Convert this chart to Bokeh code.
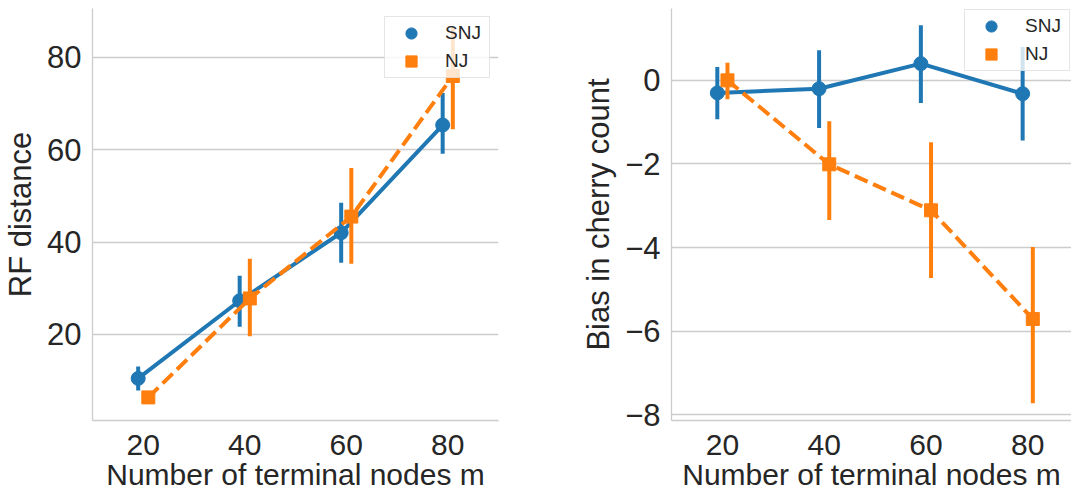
import numpy as np
from bokeh.plotting import figure
from bokeh.layouts import row
from bokeh.models import (ColumnDataSource, Range1d, FixedTicker, Legend, LegendItem,
                          CustomJSTickFormatter)
from bokeh.transform import dodge
from bokeh.embed import file_html
from bokeh.resources import INLINE

# ---------------- data ----------------
categories = ["20", "40", "60", "80"]
series = ["SNJ", "NJ"]

rf_snj = [10.5, 27.3, 42.0, 65.3]
rf_snj_lo = [7.9, 21.7, 35.5, 59.1]
rf_snj_hi = [13.1, 32.7, 48.5, 72.2]
rf_nj = [6.4, 27.8, 45.5, 75.9]
rf_nj_lo = [5.6, 19.6, 35.3, 64.4]
rf_nj_hi = [7.3, 36.4, 56.0, 86.5]

bias_snj = [-0.30, -0.20, 0.40, -0.32]
bias_snj_lo = [-0.93, -1.14, -0.54, -1.44]
bias_snj_hi = [0.32, 0.72, 1.32, 0.80]
bias_nj = [0.00, -2.01, -3.11, -5.71]
bias_nj_lo = [-0.45, -3.34, -4.73, -7.73]
bias_nj_hi = [0.42, -0.98, -1.48, -3.99]

left_ticks = [20, 40, 60, 80]
right_ticks = [-8, -6, -4, -2, 0]

BLUE = "#1f77b4"
ORANGE = "#ff7f0e"
TXT = "#262626"
GRID = "#cccccc"
FONT = "Liberation Sans"

idx = list(range(len(categories)))


def make_panel(width, min_left, min_right, yr, xr_end, yticks, ylabel,
               snj, snj_lo, snj_hi, nj, nj_lo, nj_hi, minus=False, legend_margin=8):
    p = figure(width=width, height=495, output_backend="svg", toolbar_location=None,
               x_range=Range1d(-0.5, xr_end), y_range=Range1d(*yr),
               min_border_left=min_left, min_border_right=min_right,
               min_border_top=8, min_border_bottom=75)
    p.outline_line_color = None
    p.background_fill_color = "white"
    p.border_fill_color = "white"

    src_s = ColumnDataSource(dict(x=idx, y=snj, lo=snj_lo, hi=snj_hi))
    src_n = ColumnDataSource(dict(x=idx, y=nj, lo=nj_lo, hi=nj_hi))
    xs = dodge("x", -0.05, range=p.x_range)
    xn = dodge("x", 0.05, range=p.x_range)

    # SNJ
    p.segment(x0=xs, y0="lo", x1=xs, y1="hi", source=src_s, line_color=BLUE, line_width=4)
    p.line(x=xs, y="y", source=src_s, line_color=BLUE, line_width=4)
    r_s = p.scatter(x=xs, y="y", source=src_s, marker="circle", size=14,
                    fill_color=BLUE, line_color=BLUE)
    # NJ
    p.segment(x0=xn, y0="lo", x1=xn, y1="hi", source=src_n, line_color=ORANGE, line_width=4)
    p.line(x=xn, y="y", source=src_n, line_color=ORANGE, line_width=4, line_dash="14 6")
    r_n = p.scatter(x=xn, y="y", source=src_n, marker="square", size=13,
                    fill_color=ORANGE, line_color=ORANGE)

    legend = Legend(items=[LegendItem(label=series[0], renderers=[r_s]),
                           LegendItem(label=series[1], renderers=[r_n])],
                    location="top_right", margin=legend_margin,
                    padding=2, spacing=0, glyph_width=48, glyph_height=28,
                    label_height=28, label_width=42, label_standoff=10,
                    label_text_font=FONT, label_text_font_size="19px",
                    label_text_color=TXT, border_line_color=GRID, border_line_width=1.2,
                    background_fill_color="white", background_fill_alpha=0.8)
    p.add_layout(legend)

    # axes
    p.xaxis.ticker = FixedTicker(ticks=idx)
    p.xaxis.major_label_overrides = {i: c for i, c in zip(idx, categories)}
    p.xaxis.axis_label = "Number of terminal nodes m"
    p.yaxis.ticker = FixedTicker(ticks=yticks)
    p.yaxis.axis_label = ylabel
    if minus:
        p.yaxis.formatter = CustomJSTickFormatter(
            code="return String(tick).replace('-', '\u2212');")
    for ax in (p.xaxis[0], p.yaxis[0]):
        ax.axis_line_color = GRID
        ax.axis_line_width = 1.3
        ax.major_tick_line_color = None
        ax.minor_tick_line_color = None
        ax.major_tick_out = 0
        ax.major_tick_in = 0
        ax.minor_tick_out = 0
        ax.minor_tick_in = 0
        ax.major_label_text_font = FONT
        ax.major_label_text_font_size = "31px"
        ax.major_label_text_color = TXT
        ax.axis_label_text_font = FONT
        ax.axis_label_text_font_size = "31px"
        ax.axis_label_text_font_style = "normal"
        ax.axis_label_text_color = TXT
    p.xaxis.major_label_text_font_size = "30px"
    p.xaxis.axis_label_text_font_size = "30px"
    p.xaxis.major_label_standoff = 14
    p.xaxis.axis_label_standoff = 0
    p.yaxis.major_label_standoff = 11
    p.yaxis.axis_label_standoff = 6

    p.xgrid.visible = False
    p.ygrid.grid_line_color = GRID
    p.ygrid.grid_line_width = 1.3
    return p


p1 = make_panel(506, 91, 8, (1.4, 90.5), 3.5, left_ticks, "RF distance",
                rf_snj, rf_snj_lo, rf_snj_hi, rf_nj, rf_nj_lo, rf_nj_hi)
p2 = make_panel(565, 165, 0, (-8.14, 1.72), 3.43, right_ticks, "Bias in cherry count",
                bias_snj, bias_snj_lo, bias_snj_hi, bias_nj, bias_nj_lo, bias_nj_hi,
                minus=True, legend_margin=1)

layout = row(p1, p2)
open("out.html", "w").write(file_html(layout, INLINE))
